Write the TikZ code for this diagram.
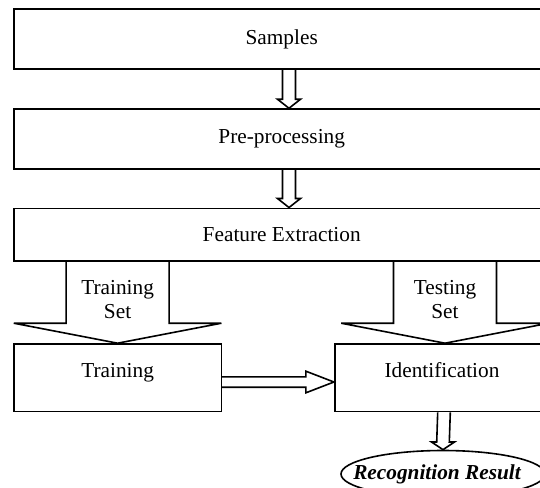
\documentclass[tikz,border=0pt]{standalone}
\usepackage{fontspec}
\setmainfont{Liberation Serif}
\usetikzlibrary{calc,shapes.geometric}

% hollow block arrow pointing down: #1 top point, #2 tip, #3 half shaft, #4 half head, #5 head length
\newcommand\hollowdown[5]{%
  \draw[hollow] ($(#1)+(-#3,0)$) -- ($(#2)+(-#3,-#5)$) -- ($(#2)+(-#4,-#5)$) -- (#2)
    -- ($(#2)+(#4,-#5)$) -- ($(#2)+(#3,-#5)$) -- ($(#1)+(#3,0)$);}
% hollow block arrow pointing right: #1 start point, #2 tip, #3 half shaft, #4 half head, #5 head length
\newcommand\hollowright[5]{%
  \draw[hollow] ($(#1)+(0,-#3)$) -- ($(#2)+(-#5,-#3)$) -- ($(#2)+(-#5,-#4)$) -- (#2)
    -- ($(#2)+(-#5,#4)$) -- ($(#2)+(-#5,#3)$) -- ($(#1)+(0,#3)$);}

\begin{document}
\begin{tikzpicture}[x=1pt,y=-1pt,line width=1.6pt,
  txt/.style={font=\fontsize{21.3}{24}\selectfont},
  box/.style={draw,rectangle,inner sep=0pt,txt},
  lbl/.style={txt,inner sep=0pt,align=center},
  hollow/.style={draw,line join=miter}]
\clip (0,0) rectangle (540,487);
\fill[white] (0,0) rectangle (540,487);

% process boxes
\node[box,minimum width=535.8pt,minimum height=59.6pt] (samples) at (281.7,39.1) {Samples};
\node[box,minimum width=535.8pt,minimum height=59.7pt] (pre) at (281.7,138.9) {Pre-processing};
\node[box,minimum width=535.8pt,minimum height=52.4pt] (feat) at (281.7,234.5) {Feature Extraction};
\node[box,minimum width=207.6pt,minimum height=67.5pt] (train) at (117.6,377.75) {};
\node[box,minimum width=218.6pt,minimum height=67.5pt] (ident) at (444,377.75) {};
\node[lbl,anchor=base] (traintxt) at (117.6,377.5) {Training};
\node[lbl,anchor=base] (identtxt) at (442,377.5) {Identification};

% result ellipse
\node[draw,ellipse,minimum width=204pt,minimum height=47pt,inner sep=0pt] (result) at (443,474) {};
\node[lbl,font=\fontsize{21.3}{24}\selectfont\bfseries\itshape] (resulttxt)
  at ($(result.center)+(-6,0)$) {Recognition Result};

% small arrows between the upper boxes
\coordinate (a1t) at ($(samples.south)+(7.3,0)$);
\coordinate (a1b) at ($(pre.north)+(7.3,0)$);
\coordinate (a2t) at ($(pre.south)+(7.3,0)$);
\coordinate (a2b) at ($(feat.north)+(7.3,0)$);
\hollowdown{a1t}{a1b}{6.5}{11.5}{9}
\hollowdown{a2t}{a2b}{6.5}{11.5}{9}

% wide arrows carrying the two data sets
\coordinate (trtop) at (feat.south -| train.north);
\coordinate (tetop) at ($(feat.south -| ident.north)+(1,0)$);
\coordinate (tetip) at ($(ident.north)+(1,0)$);
\hollowdown{trtop}{train.north}{51.5}{103.8}{20}
\hollowdown{tetop}{tetip}{51.5}{103.8}{20}
\node[lbl] (trainset) at (117.6,299.2) {Training\\Set};
\node[lbl] (testset) at (445,299.2) {Testing\\Set};

% training to identification
\coordinate (hs) at ($(train.east)+(0,4.25)$);
\coordinate (he) at ($(ident.west)+(0,4.25)$);
\hollowright{hs}{he}{5.2}{10.8}{28}

% identification to result
\hollowdown{ident.south}{result.north}{6.3}{11.5}{7.7}
\end{tikzpicture}
\end{document}
